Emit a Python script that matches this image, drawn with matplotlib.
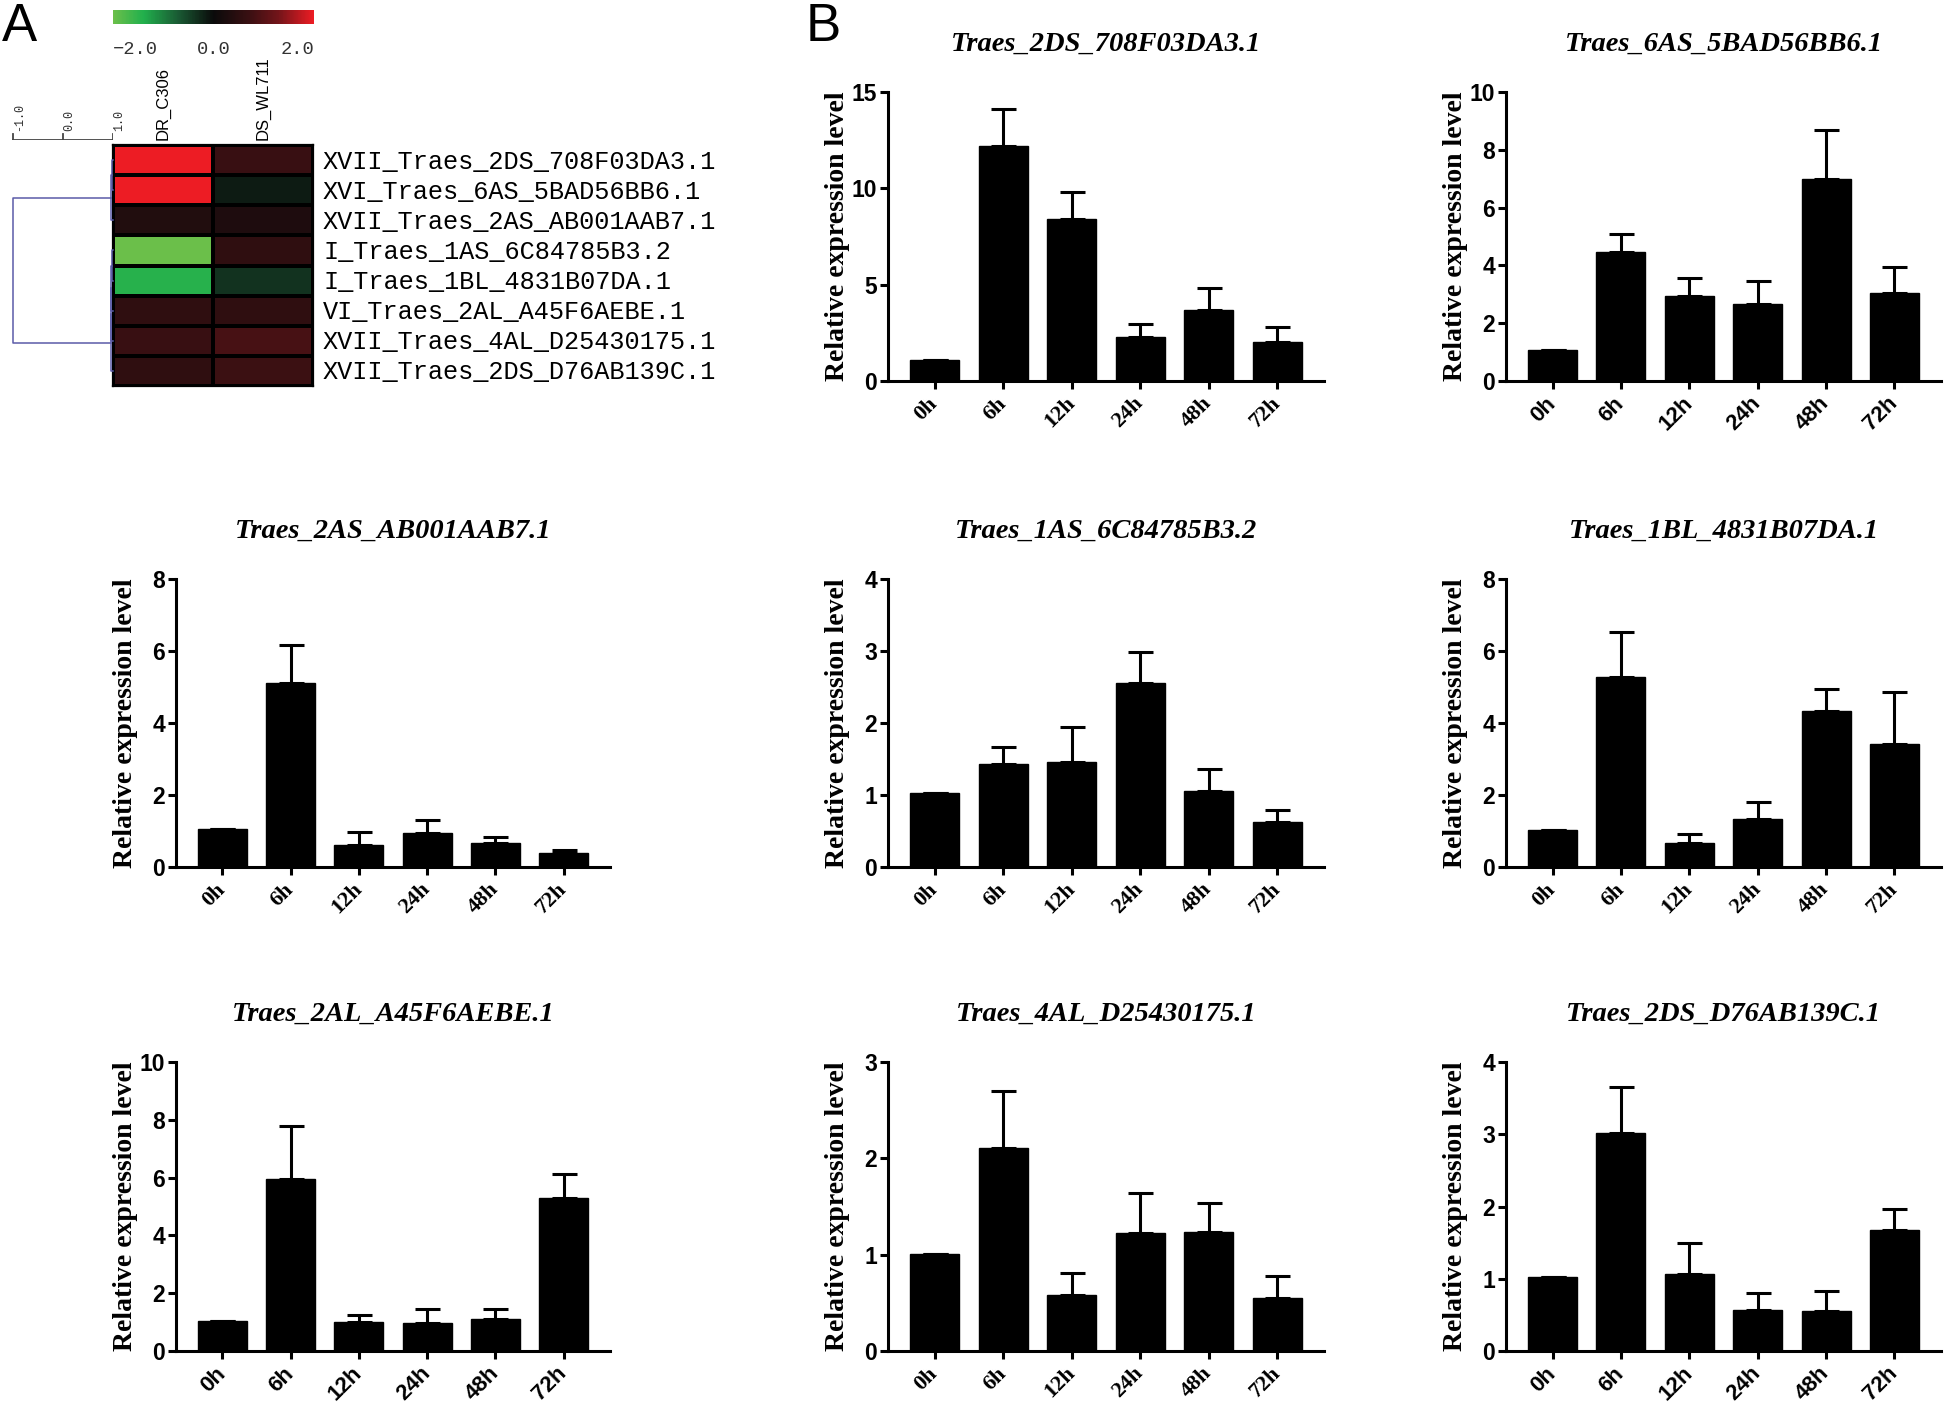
import numpy as np
import matplotlib
matplotlib.use("Agg")
import matplotlib.pyplot as plt
from matplotlib.colors import LinearSegmentedColormap, Normalize
from matplotlib.colorbar import ColorbarBase

# ---------------- data ----------------
times = ["0h", "6h", "12h", "24h", "48h", "72h"]

genes = ["Traes_2DS_708F03DA3.1", "Traes_6AS_5BAD56BB6.1", "Traes_2AS_AB001AAB7.1",
         "Traes_1AS_6C84785B3.2", "Traes_1BL_4831B07DA.1", "Traes_2AL_A45F6AEBE.1",
         "Traes_4AL_D25430175.1", "Traes_2DS_D76AB139C.1"]

expr_2ds_708 = [1.08, 12.2, 8.4, 2.26, 3.7, 2.03]
sem_2ds_708 = [0, 1.93, 1.4, 0.69, 1.15, 0.79]
expr_6as = [1.06, 4.48, 2.93, 2.65, 6.99, 3.05]
sem_6as = [0, 0.62, 0.63, 0.82, 1.7, 0.88]
expr_2as = [1.05, 5.12, 0.6, 0.95, 0.68, 0.39]
sem_2as = [0, 1.04, 0.36, 0.35, 0.16, 0.08]
expr_1as = [1.03, 1.43, 1.46, 2.56, 1.06, 0.62]
sem_1as = [0, 0.24, 0.48, 0.43, 0.30, 0.17]
expr_1bl = [1.04, 5.28, 0.67, 1.32, 4.34, 3.42]
sem_1bl = [0, 1.25, 0.26, 0.49, 0.61, 1.43]
expr_2al = [1.05, 5.95, 1.01, 0.96, 1.12, 5.31]
sem_2al = [0, 1.84, 0.23, 0.49, 0.32, 0.82]
expr_4al = [1.01, 2.11, 0.58, 1.22, 1.24, 0.55]
sem_4al = [0, 0.59, 0.23, 0.42, 0.30, 0.23]
expr_2ds_d76 = [1.02, 3.02, 1.07, 0.57, 0.55, 1.68]
sem_2ds_d76 = [0, 0.63, 0.42, 0.23, 0.28, 0.28]

all_expr = [expr_2ds_708, expr_6as, expr_2as, expr_1as, expr_1bl, expr_2al, expr_4al, expr_2ds_d76]
all_sem = [sem_2ds_708, sem_6as, sem_2as, sem_1as, sem_1bl, sem_2al, sem_4al, sem_2ds_d76]
y_max = [15, 10, 8, 4, 8, 10, 3, 4]
y_step = [5, 2, 2, 1, 2, 2, 1, 1]

# heatmap (panel A)
heat_rows = ["XVII_Traes_2DS_708F03DA3.1", "XVI_Traes_6AS_5BAD56BB6.1", "XVII_Traes_2AS_AB001AAB7.1",
             "I_Traes_1AS_6C84785B3.2", "I_Traes_1BL_4831B07DA.1", "VI_Traes_2AL_A45F6AEBE.1",
             "XVII_Traes_4AL_D25430175.1", "XVII_Traes_2DS_D76AB139C.1"]
heat_cols = ["DR_C306", "DS_WL711"]
dr_c306 = [2.0, 2.0, 0.35, -2.0, -1.45, 0.55, 0.7, 0.55]
ds_wl711 = [0.7, -0.15, 0.3, 0.55, -0.35, 0.55, 0.85, 0.72]
# dendrogram links (scipy style: child a, child b, height on the -1..1 scale)
dend_links = [(0, 1, 0.97), (8, 2, 0.96), (3, 4, 0.97), (10, 5, 0.965),
              (11, 6, 0.96), (12, 7, 0.955), (9, 13, -1.0)]

# ---------------- layout helpers ----------------
W, H = 1946, 1408
fig = plt.figure(figsize=(W / 100, H / 100), dpi=100)


def px_rect(x0, y0, x1, y1):
    return [x0 / W, 1 - y1 / H, (x1 - x0) / W, (y1 - y0) / H]


SERIF = "Liberation Serif"
SANS = "Liberation Sans"
MONO = "Liberation Mono"

# ---------------- panel A : heatmap ----------------
cmap = LinearSegmentedColormap.from_list("gbr", [
    (0.0, (0.42, 0.75, 0.29)),
    (0.15, (0.13, 0.69, 0.30)),
    (0.325, (0.10, 0.35, 0.20)),
    (0.5, (0.04, 0.04, 0.04)),
    (0.675, (0.22, 0.06, 0.07)),
    (0.825, (0.45, 0.08, 0.10)),
    (1.0, (0.93, 0.11, 0.14))])
norm = Normalize(-2, 2)

axh = fig.add_axes(px_rect(113, 145, 313, 386))
vals = np.column_stack([dr_c306, ds_wl711])
axh.pcolormesh(vals, cmap=cmap, norm=norm, edgecolors="black", linewidth=1.6)
axh.set_xlim(0, 2)
axh.set_ylim(len(heat_rows), 0)
axh.set_xticks([])
axh.set_yticks([])
for sp in axh.spines.values():
    sp.set_linewidth(1.6)
for i, name in enumerate(heat_rows):
    axh.text(2.1, i + 0.55, name, fontsize=18.2, family=MONO, va="center", ha="left")
for j, name in enumerate(heat_cols):
    axh.text(j + 0.5, -0.15, name, fontsize=12, family=SANS, rotation=90,
             ha="center", va="bottom")

# colorbar
axc = fig.add_axes(px_rect(113, 10, 314, 24))
cb = ColorbarBase(axc, cmap=cmap, norm=norm, orientation="horizontal")
cb.set_ticks([])
cb.outline.set_visible(False)
for v, ha, lab in [(-2, "left", "\u22122.0"), (0, "center", "0.0"), (2, "right", "2.0")]:
    axc.text(v, -1.25, lab, transform=axc.get_xaxis_transform(), ha=ha, va="top",
             fontsize=13.5, family=MONO, color="#333333")

# dendrogram
axd = fig.add_axes(px_rect(0, 145, 113, 386))
axd.set_xlim(-1.26, 1.0)
axd.set_ylim(len(heat_rows), 0)
axd.axis("off")
node_y = {i: i + 0.5 for i in range(len(heat_rows))}
node_x = {i: 1.0 for i in range(len(heat_rows))}
dcol = "#5b5ba8"
for k, (a, b, h) in enumerate(dend_links):
    nid = len(heat_rows) + k
    axd.plot([node_x[a], h, h, node_x[b]], [node_y[a], node_y[a], node_y[b], node_y[b]],
             color=dcol, lw=1.1, clip_on=False)
    node_y[nid] = (node_y[a] + node_y[b]) / 2
    node_x[nid] = h

# dendrogram scale bar
axs = fig.add_axes(px_rect(0, 100, 113, 140))
axs.set_xlim(-1.26, 1.0)
axs.set_ylim(0, 1)
axs.axis("off")
axs.plot([-1.0, 1.0], [0.0, 0.0], color="#444444", lw=1.3)
for t in [-1.0, 0.0, 1.0]:
    axs.plot([t, t], [0.0, 0.16], color="#444444", lw=1.3)
    axs.text(t + 0.13, 0.22, "%.1f" % t, rotation=90, fontsize=8.5, family=MONO,
             ha="center", va="bottom", color="#333333")

fig.text(2 / W, 1 - 2 / H, "A", fontsize=38, family=SANS, ha="left", va="top")
fig.text(806 / W, 1 - 2 / H, "B", fontsize=38, family=SANS, ha="left", va="top")

# ---------------- panel B : bar charts ----------------
col_x = [(176, 610), (888, 1324), (1506, 1941)]
row_y = [(92, 381), (579, 867), (1062, 1351)]
slots = [(0, 1), (0, 2), (1, 0), (1, 1), (1, 2), (2, 0), (2, 1), (2, 2)]
xtick_font = [SERIF, SANS, SERIF, SERIF, SERIF, SANS, SERIF, SANS]

x = np.arange(len(times))
for k in range(len(genes)):
    r, c = slots[k]
    x0, x1 = col_x[c]
    y0, y1 = row_y[r]
    ax = fig.add_axes(px_rect(x0, y0, x1, y1))
    means = np.array(all_expr[k])
    sems = np.array(all_sem[k])
    ax.bar(x, means, width=0.715, color="black", edgecolor="black", zorder=2)
    ax.errorbar(x, means, yerr=[np.zeros_like(sems), sems], fmt="none",
                ecolor="black", elinewidth=2.2, capsize=9, capthick=2.2, zorder=1)
    ax.set_xlim(-0.68, 5.68)
    ax.set_ylim(0, y_max[k])
    yt = np.arange(0, y_max[k] + 0.01, y_step[k])
    ax.set_yticks(yt)
    ax.set_yticklabels([str(int(v)) for v in yt], fontsize=16.5, fontweight="bold", family=SANS)
    ax.set_xticks(x)
    ax.set_xticklabels(times, rotation=45, ha="right", va="center", rotation_mode="anchor",
                       fontsize=16, fontweight="bold", family=xtick_font[k])
    for sp in ["top", "right"]:
        ax.spines[sp].set_visible(False)
    for sp in ["left", "bottom"]:
        ax.spines[sp].set_linewidth(2.2)
    ax.tick_params(axis="both", direction="out", width=2.2, length=6)
    ax.tick_params(axis="x", pad=8)
    ax.tick_params(axis="y", pad=2)
    ax.set_ylabel("Relative expression level", fontsize=20, fontweight="bold", family=SERIF)
    ax.yaxis.set_label_coords(-38 / (x1 - x0), 0.5)
    ax.set_title(genes[k], fontsize=20.5, fontweight="bold", style="italic", family=SERIF, pad=30)

fig.savefig("out.png", dpi=100, facecolor="white")
